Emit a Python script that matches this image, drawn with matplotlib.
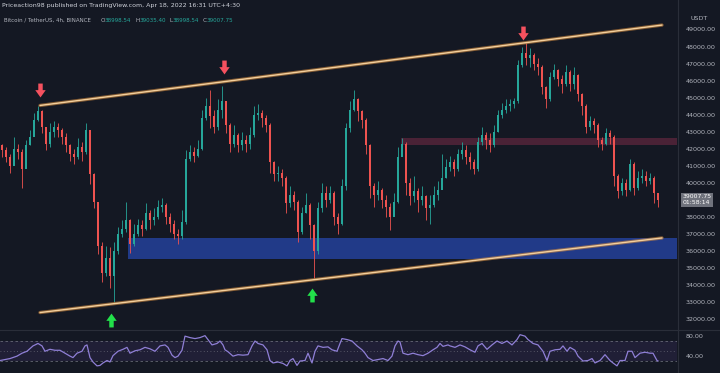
import matplotlib
matplotlib.use("Agg")
import matplotlib.pyplot as plt
import numpy as np
from matplotlib.path import Path
from matplotlib.patches import Rectangle
import matplotlib.transforms as mtransforms

# ---------------- data (4h candles, resampled) ----------------
closes = [41900, 41500, 41000, 42000, 41800, 40800, 42200, 42700, 43700, 44200,
          43300, 42300, 43000, 43300, 43100, 42700, 42200, 41700, 41500, 42100,
          41800, 43100, 40500, 38900, 36300, 34700, 35600, 34500, 36000, 37000,
          37300, 37800, 36400, 37000, 37500, 37300, 38200, 37800, 38000, 38600,
          38700, 38000, 37600, 37000, 36900, 37700, 41400, 41800, 41600, 42000,
          43800, 44500, 43900, 43300, 44300, 44800, 43400, 42300, 42800, 42200,
          42500, 42300, 42800, 44000, 44100, 43800, 43400, 41200, 40500, 40600,
          40300, 38800, 39300, 38900, 37100, 38200, 38700, 37500, 36000, 38500,
          39400, 39000, 39400, 38000, 37600, 39800, 43200, 44300, 44900, 44200,
          43700, 42200, 39800, 39300, 39600, 39000, 38600, 38000, 38900, 41500,
          42300, 40000, 39200, 39500, 39000, 39200, 38500, 38700, 39300, 39600,
          40300, 40900, 41200, 40800, 41700, 41900, 41500, 41200, 40800, 42400,
          42800, 42500, 42200, 43000, 44000, 44300, 44500, 44600, 44800, 46900,
          47600, 47300, 47500, 47000, 46800, 45600, 44900, 46200, 46600, 46100,
          45800, 46500, 45800, 46300, 45200, 44500, 43300, 43600, 43400, 42500,
          42300, 42900, 42700, 40400, 39500, 40000, 39600, 41100, 39700, 40300,
          40400, 40100, 40300, 39400, 39007.75]
highs = [42300, 42100, 41700, 42700, 42300, 42000, 42500, 43100, 44100, 44500,
         44300, 43200, 43500, 43600, 43500, 43200, 42900, 42300, 42000, 42600,
         42400, 43500, 43000, 40600, 38900, 36500, 36300, 36200, 36500, 37400,
         37800, 38900, 37900, 37600, 37900, 37800, 38800, 38400, 38500, 39000,
         39100, 38800, 38200, 37800, 37300, 38400, 41900, 42200, 42100, 42500,
         44300, 45000, 45450, 44300, 44900, 45700, 44800, 43500, 43400, 42900,
         43000, 42800, 43300, 44500, 44600, 44300, 44000, 43500, 41300, 41000,
         40800, 40400, 39800, 39500, 39000, 38600, 39400, 38800, 37600, 38900,
         40000, 39800, 39800, 39500, 38200, 40200, 43500, 44800, 45450, 45000,
         44300, 43800, 42300, 40000, 40100, 39700, 39300, 38800, 39400, 42100,
         42600, 42400, 40300, 40400, 39700, 39800, 39300, 39300, 39800, 40100,
         41700, 41400, 41600, 41400, 42000, 42400, 42200, 41800, 41400, 42700,
         43300, 43000, 42900, 43400, 44300, 44700, 44900, 44900, 45000, 47200,
         48000, 48200, 47900, 47600, 47300, 46900, 45700, 46500, 47000, 46700,
         46300, 46900, 46600, 46800, 46400, 45300, 44600, 43900, 43800, 43500,
         42700, 43200, 43100, 42800, 40500, 40300, 40200, 41400, 41200, 40700,
         40800, 40700, 40600, 40400, 39400]
lows = [41500, 41200, 40600, 41600, 41400, 39700, 41500, 42200, 42900, 43600,
        42900, 41900, 42100, 42700, 42700, 42300, 41800, 41300, 41100, 41400,
        41300, 41700, 39900, 38500, 35800, 34200, 34500, 33800, 33000, 35800,
        36800, 37100, 35900, 36300, 36900, 36900, 37200, 37300, 37500, 37900,
        38300, 37600, 37100, 36700, 36400, 36700, 37600, 41300, 41200, 41500,
        41900, 43700, 43200, 42900, 43100, 43800, 42900, 41800, 42100, 41800,
        41900, 41800, 42000, 42700, 43700, 43300, 43000, 40600, 40100, 40100,
        39800, 38200, 38600, 38400, 36500, 37000, 38200, 36700, 34400, 35800,
        38300, 38600, 38800, 37500, 37000, 37500, 39600, 43000, 44200, 43600,
        43200, 41700, 39100, 38600, 39000, 38500, 38000, 37200, 38200, 38800,
        41600, 39300, 38700, 38900, 38300, 38700, 37800, 37600, 38600, 39000,
        39800, 40300, 40700, 40400, 40700, 41400, 41100, 40800, 40500, 40700,
        42200, 42000, 41800, 42100, 43000, 43800, 44100, 44200, 44400, 44700,
        46800, 46900, 46800, 46600, 46300, 45200, 44400, 44800, 46100, 45700,
        45300, 45700, 45400, 45500, 44800, 44000, 42900, 43100, 42900, 42100,
        41900, 42200, 42300, 39800, 39100, 39300, 39200, 39500, 39300, 39600,
        40000, 39800, 39900, 38800, 38600]
first_open = 42200

rsi_bar = [-0.5, 2, 3.75, 5, 6.25, 7.75, 9, 10, 10.75, 12, 13.25, 14.5, 15.75, 17, 17.75,
           18.75, 20, 20.75, 21.25, 22, 22.75, 23.75, 24.5, 25.25, 26.25, 27, 27.75, 29,
           30.25, 31.25, 32, 33.25, 34.5, 35.75, 37, 38.25, 39.5, 40.75, 41.5, 42.5, 43.25,
           44, 45, 45.75, 47, 48.25, 49.5, 50.75, 51.5, 52.5, 53.75, 54.5, 55.25, 55.75,
           56.5, 57.75, 59, 60.25, 61.5, 62.5, 63.25, 64, 65.25, 66.25, 67, 67.75, 69,
           70.25, 71.25, 72, 72.75, 73.75, 74.5, 75.75, 76.5, 77.5, 78.25, 79, 80.25,
           81.5, 82.5, 83.75, 84.5, 85, 86.25, 87.5, 88.75, 90, 90.75, 91.5, 92.75, 94,
           95.25, 96.5, 97.5, 98.25, 99, 99.5, 100.25, 101.5, 102.75, 104, 105.25, 106.5,
           107.75, 108.75, 109.5, 110.25, 111.5, 112, 113.25, 114.5, 115.75, 117, 118.25,
           119, 120, 121.25, 122.5, 123.75, 125, 126.25, 127.5, 128.75, 129.5, 130.75,
           131.5, 132.75, 134, 135.25, 136.25, 137, 138.25, 139.5, 140.25, 141.25, 142,
           143.25, 144, 145.25, 146.5, 147.5, 148.25, 149.5, 150.75, 152, 152.75, 153.75,
           154.5, 155.75, 156.5, 157.5, 158.25, 159.5, 160.75, 162, 162.75, 163.75, 164]
rsi_val = [30, 34, 39, 45, 49, 60, 65, 60, 49, 53, 51, 51, 45, 39, 36,
           45, 49, 60, 62, 36, 27, 19, 20, 25, 30, 27, 40, 49,
           53, 57, 45, 50, 52, 57, 54, 49, 60, 62, 57, 41, 36,
           39, 51, 80, 77, 75, 77, 81, 73, 62, 65, 70, 62, 52,
           48, 39, 42, 41, 42, 60, 70, 65, 62, 52, 30, 25, 27,
           24, 19, 30, 34, 20, 29, 30, 45, 25, 49, 60, 57,
           58, 52, 49, 65, 75, 73, 70, 60, 52, 45, 36, 30, 32,
           34, 30, 39, 60, 70, 68, 45, 42, 45, 42, 40, 45,
           52, 57, 65, 59, 62, 60, 57, 62, 58, 52, 47,
           60, 65, 53, 62, 70, 65, 70, 62, 73, 83, 80,
           73, 65, 62, 49, 30, 49, 52, 53, 60, 49, 57,
           51, 39, 29, 30, 34, 25, 30, 42, 30, 25, 19,
           30, 30, 49, 49, 36, 45, 47, 45, 45, 30, 29]

# drawings: channel lines (bar, price), zones, arrows
upper_line_bar = [9.5, 165]
upper_line_px = [44540, 49260]
lower_line_bar = [9.5, 165]
lower_line_px = [32380, 36760]
blue_zone = (31.5, 35520, 36770)      # start bar, low, high
red_zone = (99.75, 42220, 42630)
red_arrows_bar = [9.5, 55.5, 130.25]
red_arrows_px = [45450, 46800, 48800]
green_arrows_bar = [27.25, 77.5]
green_arrows_px = [31940, 33410]

price_ticks = [32000, 33000, 34000, 35000, 36000, 37000, 38000,
               40000, 41000, 42000, 43000, 44000, 45000, 46000, 47000, 48000, 49000]
rsi_ticks = [40, 80]
last_price = 39007.75
countdown = "01:58:14"

# ---------------- style ----------------
BG = '#141823'
UP = '#26a69a'
DN = '#ef5350'
TXT = '#b2b5be'
W, H = 720, 373

fig = plt.figure(figsize=(7.2, 3.73), dpi=100, facecolor=BG)
axr = 677 / W
ax = fig.add_axes([0, (H - 329) / H, axr, 329 / H])
rx = fig.add_axes([0, 0, axr, (H - 330) / H])
for a in (ax, rx):
    a.set_facecolor(BG)
    for s in a.spines.values():
        s.set_visible(False)
    a.tick_params(axis='x', bottom=False, labelbottom=False)
    a.yaxis.tick_right()
    a.tick_params(axis='y', length=0, pad=6, labelsize=4.6, labelcolor=TXT)

n = len(closes)
idx = np.arange(n)
opens = [first_open] + closes[:-1]
o = np.array(opens, float)
c = np.array(closes, float)
hi = np.array(highs, float)
lo = np.array(lows, float)
up = c >= o
cols = np.where(up, UP, DN)

ax.vlines(idx, lo, hi, colors=cols, linewidth=0.6, zorder=3)
bottom = np.minimum(o, c)
height = np.maximum(np.abs(c - o), 40)
ax.bar(idx, height, bottom=bottom, width=0.5, color=cols, linewidth=0, zorder=4)

xl = (-0.5, 168.75)
ax.set_xlim(*xl)
ax.set_ylim(31414, 50732)
rx.set_xlim(*xl)
rx.set_ylim(4.4, 92.6)

# zones
ax.add_patch(Rectangle((blue_zone[0], blue_zone[1]), xl[1] - blue_zone[0],
                       blue_zone[2] - blue_zone[1], facecolor='#213a88',
                       edgecolor='none', zorder=2))
ax.add_patch(Rectangle((red_zone[0], red_zone[1]), xl[1] - red_zone[0],
                       red_zone[2] - red_zone[1], facecolor='#4a2236',
                       edgecolor='none', zorder=2))

# channel lines
for bx, py in ((upper_line_bar, upper_line_px), (lower_line_bar, lower_line_px)):
    ax.plot(bx, py, color='#d08a40', lw=2.4, alpha=0.6, solid_capstyle='round', zorder=5)
    ax.plot(bx, py, color='#f3cf9c', lw=1.0, solid_capstyle='round', zorder=6)

# fat arrow markers
down_arrow = Path([(-0.32, 1), (0.32, 1), (0.32, 0.05), (0.75, 0.05), (0, -1),
                   (-0.75, 0.05), (-0.32, 0.05), (-0.32, 1)],
                  [Path.MOVETO] + [Path.LINETO] * 6 + [Path.CLOSEPOLY])
up_arrow = Path([(x, -y) for x, y in down_arrow.vertices], down_arrow.codes)
ax.plot(red_arrows_bar, red_arrows_px, linestyle='none', marker=down_arrow,
        markersize=10, color='#f5515f', markeredgewidth=0, zorder=7)
ax.plot(green_arrows_bar, green_arrows_px, linestyle='none', marker=up_arrow,
        markersize=10, color='#22e04a', markeredgewidth=0, zorder=7)

ax.set_yticks(price_ticks)
ax.set_yticklabels([f"{v:.2f}" for v in price_ticks])

# RSI pane
rx.axhspan(30, 70, color='#7e57c2', alpha=0.12, lw=0)
for lvl, ls in ((70, (0, (3, 3))), (30, (0, (3, 3))), (50, (0, (1, 3)))):
    rx.axhline(lvl, color='#787b86', lw=0.6, ls=ls, alpha=0.8)
rx.plot(rsi_bar, rsi_val, color='#8f7fd6', lw=0.9, zorder=3)
rx.set_yticks(rsi_ticks)
rx.set_yticklabels([f"{v:.2f}" for v in rsi_ticks])

# separators
fig.add_artist(plt.Line2D([axr + 1 / W, axr + 1 / W], [0, 1], color='#2a2e39', lw=0.8))
fig.add_artist(plt.Line2D([0, 1], [(H - 329.5) / H] * 2, color='#2a2e39', lw=0.8))

# last price label
trans = mtransforms.blended_transform_factory(ax.transAxes, ax.transData)
ax.text(1.008, last_price, f"{last_price:.2f}\n{countdown}", transform=trans,
        ha='left', va='center', fontsize=4.4, color='white', linespacing=1.1,
        bbox=dict(boxstyle='square,pad=0.3', fc='#6f727c', ec='none'), zorder=10,
        clip_on=False)

# header texts
fig.text(2 / W, 1 - 6 / H, "Priceaction98 published on TradingView.com, Apr 18, 2022 16:31 UTC+4:30",
         fontsize=4.5, color='#d1d4dc', ha='left', va='center')
hy = 1 - 20.5 / H
fig.text(4 / W, hy, "Bitcoin / TetherUS, 4h, BINANCE", fontsize=4.0, color=TXT, ha='left', va='center')
parts = [(100.5, "O", TXT), (105, "38998.54", UP), (136, "H", TXT), (139.5, "39035.40", UP),
         (170, "L", TXT), (173, "38998.54", UP), (203, "C", TXT), (206.5, "39007.75", UP)]
for px, s, col in parts:
    fig.text(px / W, hy, s, fontsize=4.1, color=col, ha='left', va='center')
fig.text(699 / W, 1 - 19 / H, "USDT", fontsize=4.6, color=TXT, ha='center', va='center')

fig.savefig("out.png", dpi=100, facecolor=BG)
